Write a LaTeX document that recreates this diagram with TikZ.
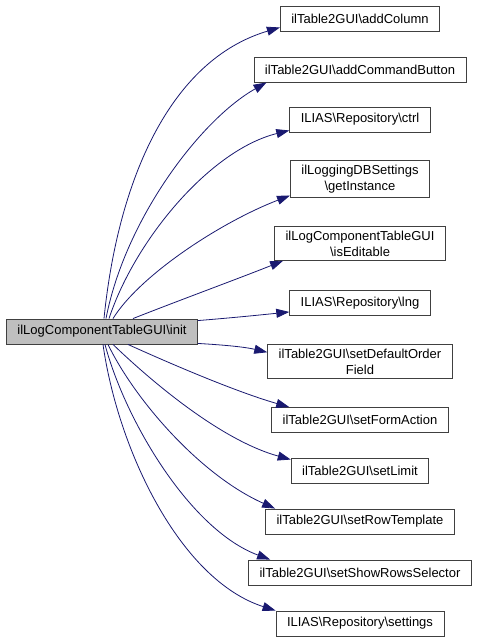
\documentclass[tikz,border=0pt]{standalone}
\usepackage{fontspec}
\setmainfont{Liberation Sans}
\usetikzlibrary{arrows.meta}
\definecolor{edgeblue}{RGB}{25,25,112}
\newcommand{\bs}{\textbackslash}

\begin{document}
\begin{tikzpicture}[x=1pt,y=-1pt,
  fn/.style={draw=black!75,fill=white,line width=0.9pt,font=\fontsize{13}{16}\selectfont,
    align=center,inner xsep=11pt,inner ysep=4pt,minimum height=25pt},
  cur/.style={fn,fill=black!25},
  call/.style={draw=edgeblue,line width=0.8pt,-{Triangle[length=13pt,width=9pt]}}]
\useasboundingbox (0,0) rectangle (480,641);
\path node[cur] (init) at (102,331.5) {ilLogComponentTableGUI\bs init}
node[fn] (addcol) at (360,18.5) {ilTable2GUI\bs addColumn}
node[fn] (addcmd) at (360,69.5) {ilTable2GUI\bs addCommandButton}
node[fn] (ctrl) at (360,119.5) {ILIAS\bs Repository\bs ctrl}
node[fn] (getinst) at (360,179) {ilLoggingDBSettings\\\bs getInstance}
node[fn] (iseditable) at (360,243.5) {ilLogComponentTableGUI\\\bs isEditable}
node[fn] (lng) at (360,303) {ILIAS\bs Repository\bs lng}
node[fn] (sortfield) at (360,361.5) {ilTable2GUI\bs setDefaultOrder\\Field}
node[fn] (formaction) at (360,420) {ilTable2GUI\bs setFormAction}
node[fn] (limit) at (360,470.5) {ilTable2GUI\bs setLimit}
node[fn] (rowtpl) at (360,521.5) {ilTable2GUI\bs setRowTemplate}
node[fn] (rowsel) at (360,572.5) {ilTable2GUI\bs setShowRowsSelector}
node[fn] (settings) at (360,623.5) {ILIAS\bs Repository\bs settings}
;
% calls going up
\draw[call] ([xshift=2]init.north) .. controls (118,180) and (170,60) .. ([yshift=4]addcol.south west);
\draw[call] ([xshift=4]init.north) .. controls (125,220) and (200,120) .. ([xshift=13]addcmd.south west);
\draw[call] ([xshift=7]init.north) .. controls (135,240) and (210,150) .. ([yshift=2]ctrl.south west);
\draw[call] ([xshift=11]init.north) .. controls (140,275) and (221,222) .. ([yshift=2]getinst.south west);
\draw[call] ([xshift=31]init.north) .. controls (180,300) and (240,278) .. ([xshift=9]iseditable.south west);
\draw[call] ([yshift=-2]init.north east) .. controls (230,318) and (260,315) .. ([yshift=4]lng.south west);
% calls going down
\draw[call] ([yshift=1]init.south east) .. controls (225,345) and (245,347) .. ([yshift=-8]sortfield.north west);
\draw[call] ([xshift=26]init.south) .. controls (180,368) and (240,393) .. ([xshift=18]formaction.north west);
\draw[call] ([xshift=11]init.south) .. controls (150,380) and (220,440) .. ([yshift=-2]limit.north west);
\draw[call] ([xshift=6]init.south) .. controls (135,400) and (200,475) .. ([xshift=10]rowtpl.north west);
\draw[call] ([xshift=3]init.south) .. controls (125,420) and (190,530) .. ([xshift=22]rowsel.north west);
\draw[call] ([xshift=1]init.south) .. controls (118,450) and (180,580) .. (settings.north west);
\end{tikzpicture}
\end{document}
